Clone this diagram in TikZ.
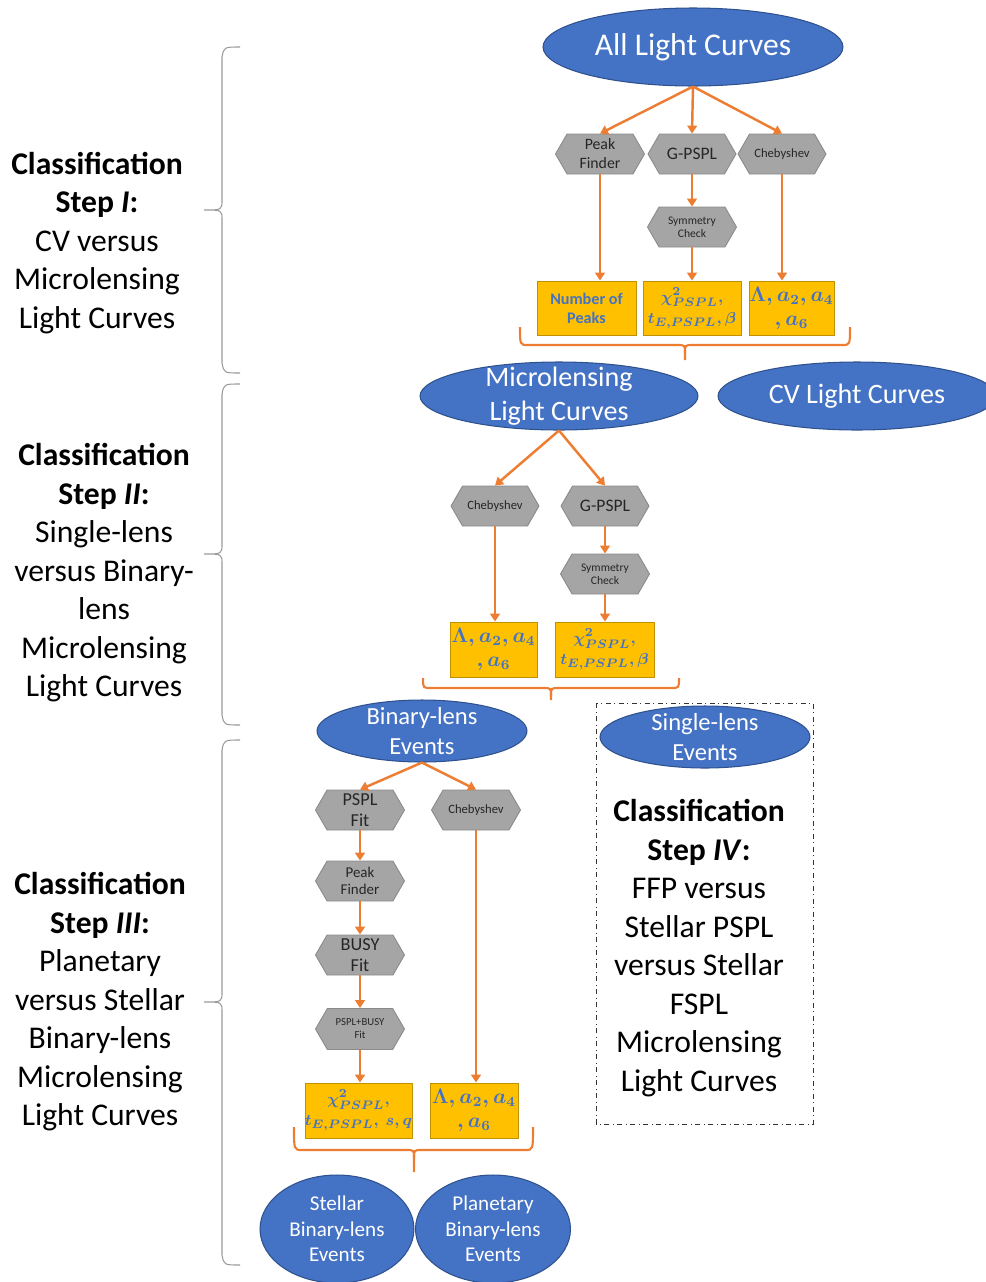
\documentclass[tikz,border=0pt]{standalone}
\usepackage{amsmath}
\usepackage{fontspec}
\setmainfont{Carlito}
\usetikzlibrary{shapes.geometric,shapes.symbols,arrows.meta}
\definecolor{ellblue}{HTML}{4472C4}
\definecolor{ellborder}{HTML}{2F528F}
\definecolor{hexfill}{HTML}{A5A5A5}
\definecolor{hexborder}{HTML}{8A8A8A}
\definecolor{orng}{HTML}{ED7D31}
\definecolor{ylw}{HTML}{FFC000}
\definecolor{ylwborder}{HTML}{BF9000}
\definecolor{txtblue}{HTML}{4472C4}
\definecolor{bracegray}{HTML}{9A9A9A}
\newcommand\obr[6]{% x1 x2 ytop ybar xtip ybot
\draw[obrace] (#1,#3) .. controls (#1,#4) .. ({#1+8},#4) -- ({#5-8},#4) .. controls (#5,#4) .. (#5,{#4+8}) -- (#5,#6);
\draw[obrace] (#5,{#4+8}) .. controls (#5,#4) .. ({#5+8},#4) -- ({#2-8},#4) .. controls (#2,#4) .. (#2,#3);}
\newcommand\lbr[3]{% ytop ymid ybot
\draw[gbrace] (240,#1) .. controls (224,#1) .. (222,{#1+10}) -- (222,{#2-10}) .. controls (222,#2) .. (204,#2) .. controls (222,#2) .. (222,{#2+10}) -- (222,{#3-10}) .. controls (224,#3) .. (240,#3);}
\begin{document}
\begin{tikzpicture}[x=0.02cm,y=-0.02cm,
 ell/.style={ellipse, fill=ellblue, draw=ellborder, line width=0.6pt, inner sep=0pt},
 elltext/.style={text=white, align=center},
 hex/.style={shape=signal, signal to=east and west, signal pointer angle=120, fill=hexfill, draw=hexborder, line width=0.5pt, minimum width=1.78cm, minimum height=0.8cm, inner sep=0pt},
 hextext/.style={align=center, text=black!85},
 ybox/.style={rectangle, fill=ylw, draw=ylwborder, line width=0.5pt, inner sep=0pt, align=center, text=txtblue},
 arr/.style={draw=orng, line width=1.4pt, -{Triangle[width=5.5pt,length=4.5pt]}},
 obrace/.style={draw=orng, line width=1.2pt},
 gbrace/.style={draw=bracegray, line width=0.6pt},
 steplabel/.style={align=center, font=\fontsize{18}{21.9}\selectfont},
 frame/.style={dash dot, line width=0.5pt, draw=black!80},
 mathbox/.style={font=\boldmath\fontsize{9.4}{12}\selectfont},
 lambdabox/.style={font=\boldmath\fontsize{11.5}{13.7}\selectfont},
]
\useasboundingbox (0,0) rectangle (986,1282);

% ---------- left labels and braces ----------
\node[steplabel] (l1) at (97,243) {\textbf{Classification}\\\textbf{Step \textit{I}:}\\CV versus\\Microlensing\\Light Curves};
\node[steplabel] (l2) at (104,573) {\textbf{Classification}\\\textbf{Step \textit{II}:}\\Single-lens\\versus Binary-\\lens\\Microlensing\\Light Curves};
\node[steplabel] (l3) at (100,1002) {\textbf{Classification}\\\textbf{Step \textit{III}:}\\Planetary\\versus Stellar\\Binary-lens\\Microlensing\\Light Curves};
\lbr{47}{210}{373}
\lbr{384}{554}{725}
\lbr{740}{1002}{1265}

% ---------- Step I ----------
\node[ell, minimum width=6cm, minimum height=1.56cm, label={[elltext,font=\fontsize{18}{22}\selectfont]center:All Light Curves}] (all) at (693,47) {};
\node[hex, label={[hextext,font=\fontsize{9}{10.8}\selectfont]center:{Peak\\Finder}}] (pf1) at (600,154) {};
\node[hex, minimum width=1.76cm, label={[hextext,font=\fontsize{10}{12}\selectfont]center:G-PSPL}] (gp1) at (692,154) {};
\node[hex, minimum width=1.76cm, label={[hextext,font=\fontsize{7.2}{8.6}\selectfont]center:Chebyshev}] (cb1) at (782,154) {};
\node[hex, label={[hextext,font=\fontsize{6.6}{7.5}\selectfont]center:{Symmetry\\Check}}] (sc1) at (692,227) {};
\node[ybox, minimum width=1.98cm, minimum height=1.08cm, font=\fontsize{9.2}{10.8}\selectfont\bfseries] (b11) at (586.5,308) {Number of\\Peaks};
\node[ybox, mathbox, minimum width=1.96cm, minimum height=1.08cm] (b12) at (692,308) {$\chi^2_{PSPL},$\\$t_{E,PSPL}, \beta$};
\node[ybox, lambdabox, minimum width=1.7cm, minimum height=1.08cm] (b13) at (791.5,308) {$\Lambda, a_2, a_4$\\$, a_6$};
\draw[arr] (all.south) -- (pf1.north);
\draw[arr] (all.south) -- (gp1.north);
\draw[arr] (all.south) -- (cb1.north);
\draw[arr] (gp1.south) -- (sc1.north);
\draw[arr] (sc1.south) -- (sc1.south |- b12.north);
\draw[arr] (pf1.south) -- (pf1.south |- b11.north);
\draw[arr] (cb1.south) -- (cb1.south |- b13.north);
\obr{520}{850}{327}{345}{685}{360}

% ---------- Step II ----------
\node[ell, minimum width=5.56cm, minimum height=1.36cm, label={[elltext,font=\fontsize{16}{19.3}\selectfont]center:{Microlensing\\Light Curves}}] (ml) at (559,396) {};
\node[ell, minimum width=5.56cm, minimum height=1.36cm, label={[elltext,font=\fontsize{16}{19.3}\selectfont]center:CV Light Curves}] (cv) at (857,396) {};
\node[hex, minimum width=1.76cm, label={[hextext,font=\fontsize{7.2}{8.6}\selectfont]center:Chebyshev}] (cb2) at (495,506) {};
\node[hex, minimum width=1.76cm, label={[hextext,font=\fontsize{10}{12}\selectfont]center:G-PSPL}] (gp2) at (605,506) {};
\node[hex, label={[hextext,font=\fontsize{6.6}{7.5}\selectfont]center:{Symmetry\\Check}}] (sc2) at (605,574) {};
\node[ybox, lambdabox, minimum width=1.74cm, minimum height=1.1cm] (b21) at (493.5,649.5) {$\Lambda, a_2, a_4$\\$, a_6$};
\node[ybox, mathbox, minimum width=1.98cm, minimum height=1.1cm] (b22) at (604.5,649.5) {$\chi^2_{PSPL},$\\$t_{E,PSPL}, \beta$};
\draw[arr] (ml.south) -- (cb2.north);
\draw[arr] (ml.south) -- (gp2.north);
\draw[arr] (gp2.south) -- (sc2.north);
\draw[arr] (sc2.south) -- (sc2.south |- b22.north);
\draw[arr] (cb2.south) -- (cb2.south |- b21.north);
\obr{423}{679}{678}{688}{551}{700}

% ---------- Step III ----------
\node[ell, minimum width=4.2cm, minimum height=1.24cm, label={[elltext,font=\fontsize{14}{17}\selectfont]center:{Binary-lens\\Events}}] (bl) at (422,731) {};
\node[hex, label={[hextext,font=\fontsize{10.4}{12}\selectfont]center:{PSPL\\Fit}}] (ps3) at (360,810) {};
\node[hex, label={[hextext,font=\fontsize{7.2}{8.6}\selectfont]center:Chebyshev}] (cb3) at (476,810) {};
\node[hex, label={[hextext,font=\fontsize{8.5}{9.8}\selectfont]center:{Peak\\Finder}}] (pf3) at (360,881) {};
\node[hex, label={[hextext,font=\fontsize{10.4}{12}\selectfont]center:{BUSY\\Fit}}] (bu3) at (360,955) {};
\node[hex, minimum height=0.82cm, label={[hextext,font=\fontsize{6.1}{7.4}\selectfont]center:{PSPL+BUSY\\Fit}}] (pb3) at (360,1029) {};
\node[ybox, mathbox, minimum width=1.98cm, minimum height=1.1cm] (b31) at (358.5,1110.5) {$\chi^2_{PSPL},$\\$t_{E,PSPL},\ s, q$};
\node[ybox, lambdabox, minimum width=1.76cm, minimum height=1.1cm] (b32) at (474,1110.5) {$\Lambda, a_2, a_4$\\$, a_6$};
\draw[arr] (bl.south) -- (ps3.north);
\draw[arr] (bl.south) -- (cb3.north);
\draw[arr] (ps3.south) -- (pf3.north);
\draw[arr] (pf3.south) -- (bu3.north);
\draw[arr] (bu3.south) -- (pb3.north);
\draw[arr] (pb3.south) -- (pb3.south |- b31.north);
\draw[arr] (cb3.south) -- (cb3.south |- b32.north);
\obr{294}{533}{1127}{1150}{414}{1172}
\node[ell, minimum width=3.08cm, minimum height=2.16cm, label={[elltext,font=\fontsize{12}{14.5}\selectfont]center:{Stellar\\Binary-lens\\Events}}] (st) at (337,1229) {};
\node[ell, minimum width=3.1cm, minimum height=2.16cm, label={[elltext,font=\fontsize{12}{14.5}\selectfont]center:{Planetary\\Binary-lens\\Events}}] (pl) at (493,1229) {};

% ---------- Step IV ----------
\draw[frame] (596,703) rectangle (813,1124);
\node[ell, minimum width=4.2cm, minimum height=1.24cm, label={[elltext,font=\fontsize{14}{17}\selectfont]center:{Single-lens\\Events}}] (sl) at (705,737) {};
\node[steplabel] (l4) at (699,948) {\textbf{Classification}\\\textbf{Step \textit{IV}:}\\FFP versus\\Stellar PSPL\\versus Stellar\\FSPL\\Microlensing\\Light Curves};
\end{tikzpicture}
\end{document}
